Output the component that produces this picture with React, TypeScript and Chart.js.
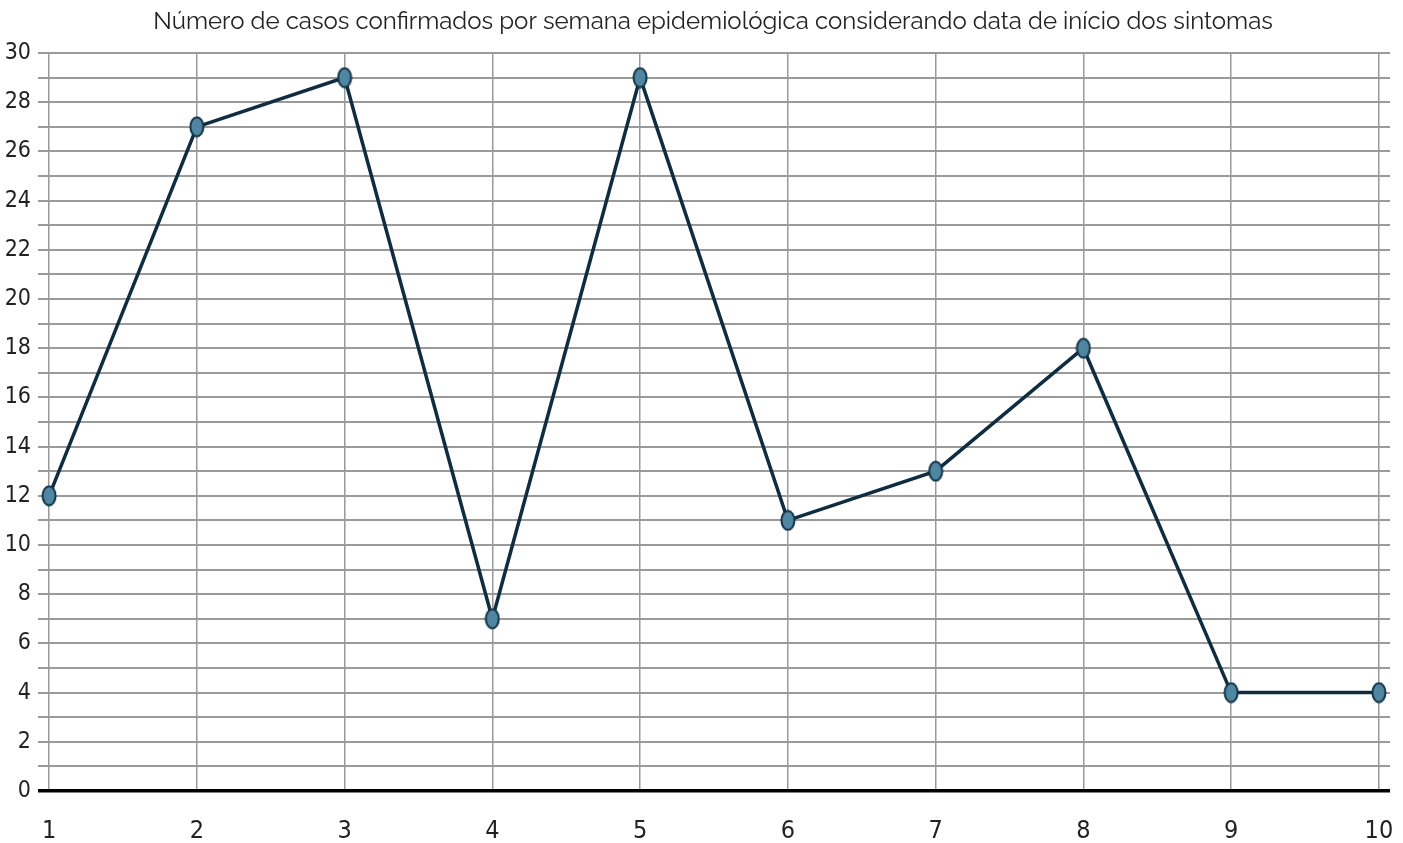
import React, { useEffect, useRef } from "react";
import { Chart, registerables } from "chart.js";

Chart.register(...registerables);

const TITLE = "Número de casos confirmados por semana epidemiológica considerando data de início dos sintomas";
const weeks = [1, 2, 3, 4, 5, 6, 7, 8, 9, 10];
const cases = [12, 27, 29, 7, 29, 11, 13, 18, 4, 4];
const yTickLabels = [0, 2, 4, 6, 8, 10, 12, 14, 16, 18, 20, 22, 24, 26, 28, 30];

const NARROW = "'Liberation Sans Narrow', 'DejaVu Sans Condensed', 'Liberation Sans', sans-serif";
const TITLE_FONT = "24px Raleway, 'Open Sans', 'Noto Sans', sans-serif";

function makeMarker(): HTMLCanvasElement {
  const c = document.createElement("canvas");
  c.width = 16;
  c.height = 22;
  const g = c.getContext("2d")!;
  g.beginPath();
  g.ellipse(8, 11, 6.5, 9.5, 0, 0, Math.PI * 2);
  g.fillStyle = "#4f86a2";
  g.fill();
  g.lineWidth = 2;
  g.strokeStyle = "#143347";
  g.stroke();
  return c;
}

const titlePlugin = {
  id: "offsetTitle",
  afterDraw(chart: any) {
    const ctx = chart.ctx;
    ctx.save();
    ctx.font = TITLE_FONT;
    ctx.fillStyle = "#222";
    ctx.textAlign = "center";
    ctx.textBaseline = "middle";
    ctx.fillText(TITLE, 713, 22);
    ctx.restore();
  },
};

export default function App() {
  const ref = useRef<HTMLCanvasElement | null>(null);

  useEffect(() => {
    document.body.style.margin = "0";
    const canvas = ref.current;
    if (!canvas) return;
    const marker = makeMarker();
    const chart = new Chart(canvas, {
      type: "line",
      data: {
        datasets: [
          {
            data: weeks.map((w, i) => ({ x: w, y: cases[i] })),
            borderColor: "#0f2d40",
            borderWidth: 3.5,
            pointStyle: marker,
            pointRadius: 8,
            tension: 0,
          },
        ],
      },
      plugins: [titlePlugin],
      options: {
        animation: false,
        responsive: false,
        maintainAspectRatio: false,
        layout: { padding: { left: 0, right: 0, top: 53, bottom: 0 } },
        plugins: {
          legend: { display: false },
          tooltip: { enabled: false },
          title: { display: false },
        },
        scales: {
          x: {
            type: "linear",
            min: 0.925,
            max: 10.075,
            afterBuildTicks: (scale: any) => {
              scale.ticks = weeks.map((v) => ({ value: v }));
            },
            afterFit: (scale: any) => {
              scale.height = 52;
              scale.paddingLeft = 0;
              scale.paddingRight = 13;
            },
            border: { display: false },
            grid: { color: "#9a9a9a", lineWidth: 1.5, drawTicks: false },
            ticks: {
              autoSkip: false,
              maxRotation: 0,
              color: "#222",
              padding: 25,
              font: { family: NARROW, size: 25 },
              callback: (v: any) => String(v),
            },
          },
          y: {
            min: 0,
            max: 30,
            afterBuildTicks: (scale: any) => {
              const t: any[] = [];
              for (let v = 0; v <= 30; v++) t.push({ value: v });
              scale.ticks = t;
            },
            afterFit: (scale: any) => {
              scale.width = 38;
              scale.paddingTop = 0;
              scale.paddingBottom = 0;
            },
            border: { display: false },
            grid: {
              drawTicks: false,
              color: (ctx: any) => (ctx.tick && ctx.tick.value === 0 ? "#000" : "#9a9a9a"),
              lineWidth: (ctx: any) => (ctx.tick && ctx.tick.value === 0 ? 3.5 : 2),
            },
            ticks: {
              autoSkip: false,
              color: "#222",
              padding: 7,
              font: { family: NARROW, size: 23 },
              callback: (v: any) => (yTickLabels.includes(Number(v)) ? String(v) : ""),
            },
          },
        },
      },
    } as any);
    return () => chart.destroy();
  }, []);

  return (
    <div style={{ width: 1403, height: 843, background: "#fff" }}>
      <canvas ref={ref} width={1403} height={843} style={{ display: "block" }} />
    </div>
  );
}
